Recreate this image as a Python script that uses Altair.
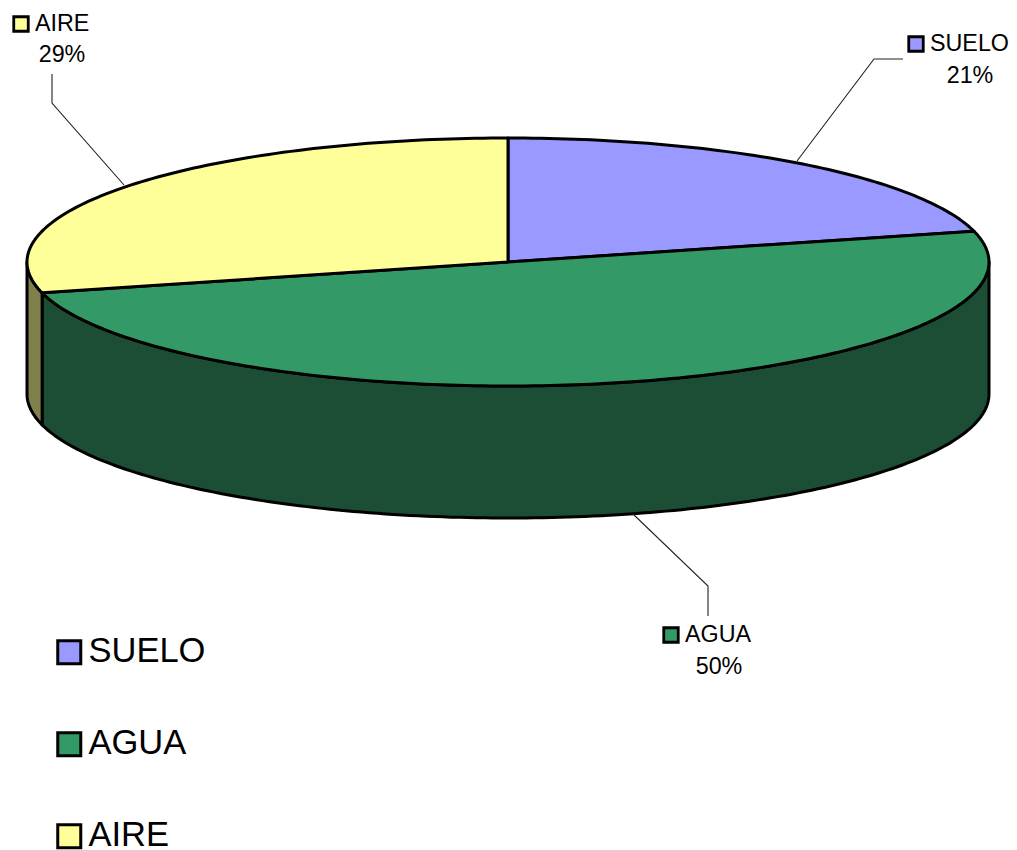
import math
import altair as alt
import pandas as pd

# --- chart values ---
names = ["SUELO", "AGUA", "AIRE"]
shares = [21, 50, 29]
top_colors = ["#9999FF", "#339966", "#FFFF99"]
wall_colors = ["#4D4D80", "#1C4E35", "#80804D"]

# --- layout (page pixels) ---
CX, CY, RX, RY, DEPTH = 508, 262, 481, 124, 132
label_x = [930, 685, 35]
label_y = [51, 642, 31]
pct_x = [970, 719, 62]
pct_y = [83, 674, 62]
swatch_x = [916, 671, 21]
swatch_y = [44, 635, 24]
leaders = [
    [(797, 161), (874, 59), (903, 59)],
    [(633, 514), (708, 586), (708, 616)],
    [(124, 185), (52, 103), (52, 74)],
]

x_scale = alt.Scale(domain=[8, 1009], nice=False, zero=False)
y_scale = alt.Scale(domain=[850, 8], nice=False, zero=False)
fill_scale = alt.Scale(domain=names, range=top_colors)
X = alt.X("x:Q", scale=x_scale, axis=None)
Y = alt.Y("y:Q", scale=y_scale, axis=None)


def pt(t, dy=0):
    r = math.radians(t)
    return CX + RX * math.sin(r), CY - RY * math.cos(r) + dy


def arc(a, b):
    n = max(2, int(abs(b - a)) + 1)
    return [pt(a + (b - a) * i / n) for i in range(n + 1)]


edges = [0]
for s in shares:
    edges.append(edges[-1] + s / sum(shares) * 360)

top_rows, wall_rows = [], []
for i, name in enumerate(names):
    a, b = edges[i], edges[i + 1]
    poly = [(CX, CY)] + arc(a, b)
    for k, (x, y) in enumerate(poly):
        top_rows.append(dict(series=name, x=x, y=y, o=k))
    lo, hi = max(a, 90), min(b, 270)
    if lo < hi:
        up = arc(lo, hi)
        down = [(x, y + DEPTH) for x, y in reversed(up)]
        for k, (x, y) in enumerate(up + down):
            wall_rows.append(dict(series=name, x=x, y=y, o=k))

walls = alt.Chart(pd.DataFrame(wall_rows)).mark_line(
    interpolate="linear-closed", stroke="black", strokeWidth=3, strokeJoin="round", clip=False
).encode(
    x=X, y=Y, order="o:Q",
    fill=alt.Fill("series:N", scale=alt.Scale(domain=names, range=wall_colors), legend=None),
    detail="series:N",
)

tops = alt.Chart(pd.DataFrame(top_rows)).mark_line(
    interpolate="linear-closed", stroke="black", strokeWidth=3, strokeJoin="round", clip=False
).encode(
    x=X, y=Y, order="o:Q",
    fill=alt.Fill("series:N", scale=fill_scale, legend=None),
    detail="series:N",
)

leader_rows = [
    dict(series=names[i], x=x, y=y, o=k)
    for i, line in enumerate(leaders)
    for k, (x, y) in enumerate(line)
]
leader_marks = alt.Chart(pd.DataFrame(leader_rows)).mark_line(
    color="#222222", strokeWidth=1.1
).encode(x=X, y=Y, order="o:Q", detail="series:N")

labels_df = pd.DataFrame(dict(
    series=names,
    pct=[f"{s}%" for s in shares],
    lx=label_x, ly=label_y, px=pct_x, py=pct_y, sx=swatch_x, sy=swatch_y,
))
name_text = alt.Chart(labels_df).mark_text(
    font="Liberation Sans", fontSize=23.3, align="left", baseline="alphabetic", color="black"
).encode(x=alt.X("lx:Q", scale=x_scale, axis=None), y=alt.Y("ly:Q", scale=y_scale, axis=None), text="series:N")
pct_text = alt.Chart(labels_df).mark_text(
    font="Liberation Sans", fontSize=23.3, align="center", baseline="alphabetic", color="black"
).encode(x=alt.X("px:Q", scale=x_scale, axis=None), y=alt.Y("py:Q", scale=y_scale, axis=None), text="pct:N")
swatches = alt.Chart(labels_df).mark_square(
    size=210, stroke="black", strokeWidth=2.8, opacity=1
).encode(
    x=alt.X("sx:Q", scale=x_scale, axis=None),
    y=alt.Y("sy:Q", scale=y_scale, axis=None),
    fill=alt.Fill(
        "series:N",
        scale=fill_scale,
        legend=alt.Legend(
            title=None, orient="none", legendX=44, legendY=627,
            symbolType="square", symbolSize=529, symbolStrokeColor="black",
            symbolStrokeWidth=3, symbolOpacity=1, labelFont="Liberation Sans",
            labelFontSize=34.5, labelColor="black", labelOffset=2, rowPadding=56,
            labelLimit=300,
        ),
    ),
)

chart = alt.layer(
    walls, tops, leader_marks, swatches, name_text, pct_text
).resolve_scale(fill="independent").properties(
    width=1001, height=842, padding=0, autosize="none", background="white"
).configure_view(stroke=None)

chart.save("out.html", embed_options={"renderer": "svg", "actions": False})
